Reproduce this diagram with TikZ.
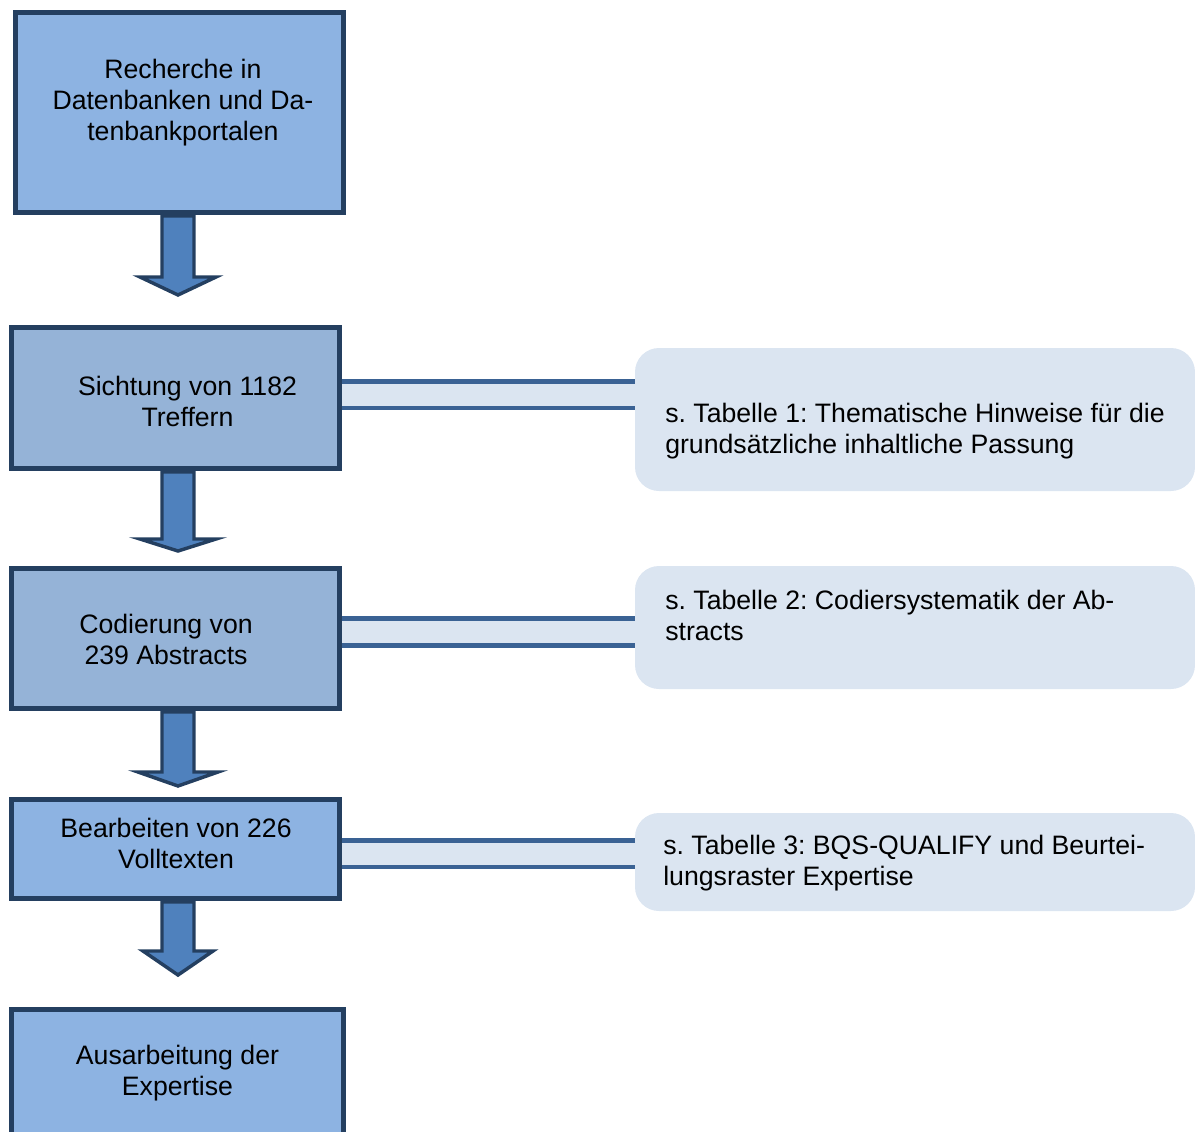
\documentclass[tikz,border=0pt]{standalone}
\usepackage{fontspec}
\setmainfont{Liberation Sans}
\frenchspacing
\definecolor{stepfillA}{HTML}{8DB3E2}
\definecolor{stepfillB}{HTML}{95B3D7}
\definecolor{stepline}{HTML}{243F60}
\definecolor{arrowfill}{HTML}{4F81BD}
\definecolor{linkline}{HTML}{3A6294}
\definecolor{notefill}{HTML}{DBE5F1}
\begin{document}
\begin{tikzpicture}[x = 0.75pt, y = -0.75pt,
		every node/.style = {font = \fontsize{20}{23.25}\selectfont, inner sep = 0pt},
		stepbox/.style = {draw = stepline, line width = 3.75pt, fill = stepfillA, minimum width = 246pt},
		steptext/.style = {align = center},
		notebox/.style = {fill = notefill, rounded corners = 18pt, minimum width = 420pt},
		notetext/.style = {anchor = west, align = left},
		link/.style = {draw = linkline, line width = 3.4pt, double = notefill, double distance = 16.5pt},
		blockarrow/.style = {draw = stepline, line width = 2.6pt, fill = arrowfill, line join = miter}]
	\useasboundingbox (0,0) rectangle (1195,1131);
	\node [stepbox, minimum height = 150pt] (b1) at (179.5,112.5) {};
	\node [stepbox, fill = stepfillB, minimum height = 105.75pt] (b2) at (175.5,398) {};
	\node [stepbox, fill = stepfillB, minimum height = 105pt] (b3) at (175.5,638.5) {};
	\node [stepbox, minimum height = 74.25pt] (b4) at (175.5,849) {};
	\node [stepbox, minimum width = 249pt, minimum height = 96pt] (b5) at (177.5,1073.5) {};
	\node [steptext] (l1) at ([shift = {(2.6pt,7.5pt)}]b1.center) {Recherche in\\Datenbanken und Da-\\tenbankportalen};
	\node [steptext] (l2) at ([shift = {(9pt,-2.6pt)}]b2.center) {Sichtung von 1182\\Treffern};
	\node [steptext] (l3) at ([shift = {(-7.1pt,-0.8pt)}]b3.center) {Codierung von\\239 Abstracts};
	\node [steptext] (l4) at ([shift = {(0.4pt,4.1pt)}]b4.center) {Bearbeiten von 226\\Volltexten};
	\node [steptext] (l5) at (b5.center) {Ausarbeitung der\\Expertise};

	\node [notebox, minimum height = 107.25pt] (c1) at (915,419.5) {};
	\node [notebox, minimum height = 92.25pt] (c2) at (915,627.5) {};
	\node [notebox, minimum height = 73.5pt] (c3) at (915,862) {};
	\node [notetext] (t1) at (665,431.5) {s. Tabelle 1: Thematische Hinweise für die\\grundsätzliche inhaltliche Passung};
	\node [notetext] (t2) at (665,615.5) {s. Tabelle 2: Codiersystematik der Ab-\\stracts};
	\node [notetext] (t3) at (663,863) {s. Tabelle 3: BQS-QUALIFY und Beurtei-\\lungsraster Expertise};

	\draw [link] ([yshift = 2.6pt]b2.east) -- ([yshift = 2.6pt]b2.east -| c1.west);
	\draw [link] ([yshift = 4.9pt]b3.east) -- ([yshift = 4.9pt]b3.east -| c2.west);
	\draw [link] ([yshift = -3.4pt]b4.east) -- ([yshift = -3.4pt]b4.east -| c3.west);

	\foreach \src/\len/\hw/\hh in {b1/61/38/18, b2/67/38/12, b3/60/40/14, b4/49/35/24}
		\draw [blockarrow] (178,0 |- \src.south) ++(-16,1) -- ++(0,\len) -- ++({16-\hw},0) -- ++(\hw,\hh)
			-- ++(\hw,-\hh) -- ++({16-\hw},0) -- ++(0,-\len) -- cycle;
\end{tikzpicture}
\end{document}
